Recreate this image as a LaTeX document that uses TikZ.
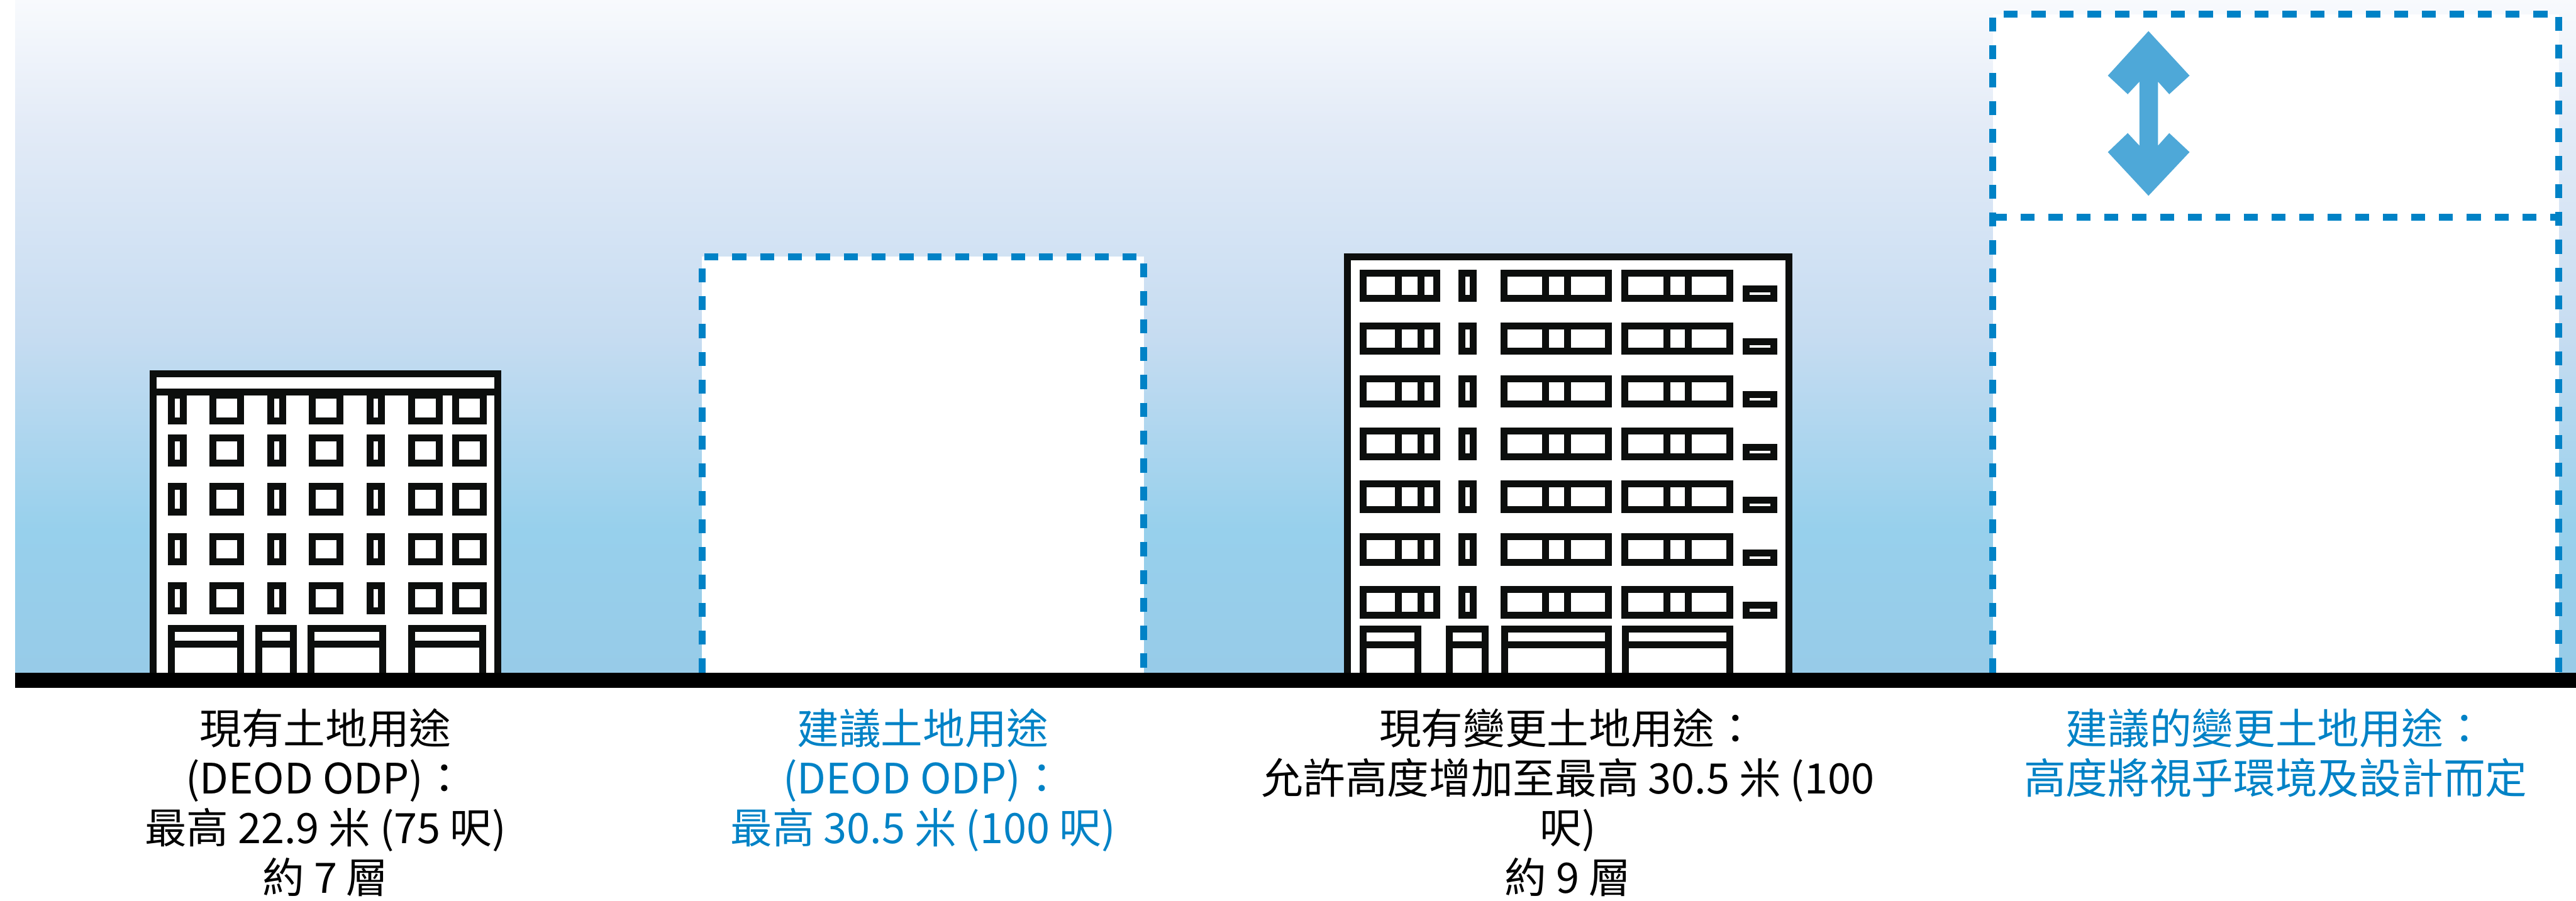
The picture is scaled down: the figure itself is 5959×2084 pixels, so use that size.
\documentclass[tikz,border=0pt]{standalone}
\usepackage{fontspec}
\usepackage{tikz}
\setmainfont{Noto Sans CJK TC}
\definecolor{colInk}{HTML}{0C0E0D}
\definecolor{colDash}{HTML}{0082C6}
\definecolor{colArrow}{HTML}{4EA8D8}
\definecolor{skyTop}{HTML}{F8FAFD}
\definecolor{skyLight}{HTML}{E3EBF7}
\definecolor{skyMid}{HTML}{C6DCF1}
\definecolor{skyLow}{HTML}{97D0EC}
\definecolor{skyGround}{HTML}{97CBE8}
\pgfdeclareverticalshading{skyfade}{100bp}{color(0bp)=(skyGround); color(25bp)=(skyGround);
  color(35.6bp)=(skyLow); color(50bp)=(skyMid); color(65.7bp)=(skyLight);
  color(75bp)=(skyTop); color(100bp)=(skyTop)}

\begin{document}
\begin{tikzpicture}[x=0.1pt, y=-0.1pt,
    frame/.style={draw=colInk, line width=1.6pt, fill=white},
    bar/.style={draw=colInk, line width=1.6pt},
    limit/.style={draw=colDash, line width=1.6pt, dash pattern=on 3.25pt off 3.2pt},
    caption/.style={anchor=north, inner sep=0pt, align=center,
      font=\fontsize{9.7pt}{11.5pt}\selectfont}]
    \useasboundingbox (0,0) rectangle (5959,2084);
    % sky and ground
    \fill[shading=skyfade] (35,0) rectangle (5959,1556);
    \fill[black] (35,1556) rectangle (5959,1592);
    \newcommand{\winpane}[4]{%
      \draw[frame] (#1+8,#2+8) rectangle (#3-8,#4-8);%
    }
    \newcommand{\doorway}[3]{%
      \draw[frame] (#1+8,1556) -- (#1+8,#3+8) -- (#2-8,#3+8) -- (#2-8,1556);%
      \draw[bar] (#1+8,#3+45) -- (#2-8,#3+45);%
    }
    % existing building, 7 storeys
    \draw[frame] (354,1556) -- (354,864.5) -- (1152,864.5) -- (1152,1556);
    \draw[bar] (354,906.75) -- (1152,906.75);
    \foreach \ry in {907,1005,1118,1233,1347}{
      \foreach \cx/\cw in {389/43, 485/80, 619/43, 715/80, 848/43, 944/80, 1046/80}{
        \winpane{\cx}{\ry}{\cx+\cw}{\ry+75}
      }
    }
    \doorway{389}{564}{1446}
    \doorway{591}{687}{1446}
    \doorway{712}{893}{1446}
    \doorway{944}{1125}{1446}
    % proposed envelope
    \fill[white] (1624,594) rectangle (2646,1556);
    \draw[limit] (1624,1556) -- (1624,594) -- (2646,594) -- (2646,1556);
    % amended building, 9 storeys
    \draw[frame] (3117,1556) -- (3117,594) -- (4138,594) -- (4138,1556);
    \foreach \ry in {624,746,868,990,1112,1234,1356}{
      \winpane{3145}{\ry}{3332}{\ry+75}
      \winpane{3374}{\ry}{3416}{\ry+75}
      \winpane{3471}{\ry}{3729}{\ry+75}
      \winpane{3751}{\ry}{4009}{\ry+75}
      \winpane{4032}{\ry+37}{4111}{\ry+75}
      \foreach \dx in {3235, 3286.5, 3575, 3625.5, 3855.5, 3906}{
        \draw[bar] (\dx,\ry+8) -- (\dx,\ry+67);
      }
    }
    \doorway{3145}{3288}{1447}
    \doorway{3345}{3443}{1447}
    \doorway{3472}{3729}{1447}
    \doorway{3752}{4009}{1447}
    % proposed amendment envelope
    \fill[white] (4610,33) rectangle (5919,1556);
    \draw[limit] (4610,1556) -- (4610,33) -- (5919,33) -- (5919,1556);
    \draw[limit] (4610,502) -- (5919,502);
    \fill[colArrow] (4970,72) -- (5065,175) -- (5018,218) -- (4992,189) -- (4992,337)
      -- (5018,308) -- (5065,352) -- (4970,453) -- (4876,352) -- (4922,308)
      -- (4949,337) -- (4949,189) -- (4922,218) -- (4876,175) -- cycle;
    % captions
    \node[caption] (lblexist) at (753,1638)
      {現有土地用途\\(DEOD ODP)：\\最高 22.9 米 (75 呎)\\約 7 層};
    \node[caption, text=colDash] (lblprop) at (2135,1638)
      {建議土地用途\\(DEOD ODP)：\\最高 30.5 米 (100 呎)};
    \node[caption] (lblamend) at (3627,1638)
      {現有變更土地用途：\\允許高度增加至最高 30.5 米 (100\\呎)\\約 9 層};
    \node[caption, text=colDash] (lblpropamend) at (5264,1638)
      {建議的變更土地用途：\\高度將視乎環境及設計而定};
\end{tikzpicture}
\end{document}
